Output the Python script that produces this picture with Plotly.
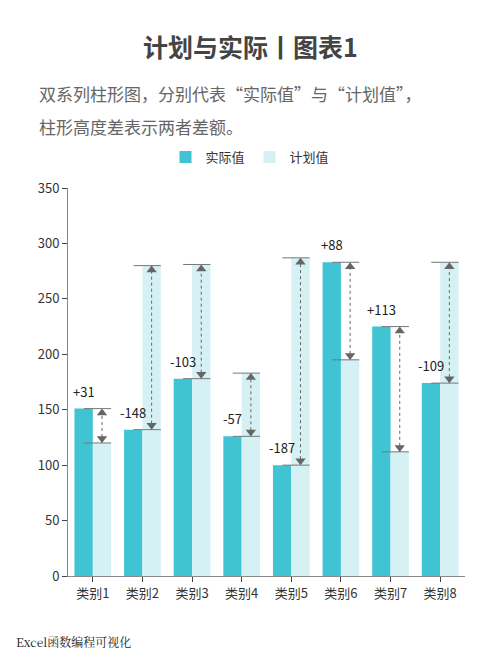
import plotly.graph_objects as go

categories = ["类别1","类别2","类别3","类别4","类别5","类别6","类别7","类别8"]
actual = [151, 132, 178, 126, 100, 283, 225, 174]
plan = [120, 280, 281, 183, 287, 195, 112, 283]
y_ticks = [0, 50, 100, 150, 200, 250, 300, 350]

# page has an 8px body margin; compensate
OFF = 8
L, R, T, B = 68 - OFF, 500 - (465 - OFF), 188 - OFF, 667 - (576 - OFF)
PW, PH = 500 - L - R, 667 - T - B
def px(xp): return (xp - OFF - L) / PW
def py(yp): return (667 - B - (yp - OFF)) / PH

x = list(range(len(categories)))
fig = go.Figure()
fig.add_bar(x=x, y=actual, name="实际值", marker_color="#40C4D4", offset=-0.37, width=0.37)
fig.add_bar(x=x, y=plan, name="计划值", marker_color="#D6F1F4", offset=0.0, width=0.37)

shapes = []
ux, uy, dx, dy = [], [], [], []
for i, (a, p) in enumerate(zip(actual, plan)):
    xc = i + 0.185
    lo, hi = min(a, p), max(a, p)
    shapes.append(dict(type="line", x0=xc, x1=xc, y0=lo, y1=hi, line=dict(color="#666", width=1, dash="dot")))
    shapes.append(dict(type="line", x0=i - 0.18, x1=i + 0.37, y0=p, y1=p, line=dict(color="#777", width=1)))
    shapes.append(dict(type="line", x0=i - 0.18, x1=i + 0.37, y0=a, y1=a, line=dict(color="#777", width=1)))
    ux.append(xc); uy.append(hi - 4)
    dx.append(xc); dy.append(lo + 4)

fig.add_scatter(x=ux, y=uy, mode="markers", marker=dict(symbol="triangle-up", size=9, color="#666"),
                showlegend=False, hoverinfo="skip")
fig.add_scatter(x=dx, y=dy, mode="markers", marker=dict(symbol="triangle-down", size=9, color="#666"),
                showlegend=False, hoverinfo="skip")

fig.update_layout(
    width=500, height=667, template="none",
    paper_bgcolor="white", plot_bgcolor="white",
    font=dict(family="Noto Sans CJK SC", color="#333"),
    margin=dict(l=L, r=R, t=T, b=B, autoexpand=False),
    barmode="overlay", showlegend=True,
    legend=dict(orientation="h", x=px(250), xanchor="center", y=py(157), yanchor="middle",
                font=dict(size=13), itemwidth=30),
    shapes=shapes,
    xaxis=dict(tickmode="array", tickvals=x, ticktext=categories, range=[-0.5, 7.5], showgrid=False,
               showline=True, linecolor="#888", ticks="outside", tickfont=dict(size=13), zeroline=False,
               automargin=False),
    yaxis=dict(range=[0, 350], tickvals=y_ticks, showgrid=False, showline=True, linecolor="#888",
               ticks="outside", tickfont=dict(size=13), zeroline=False, automargin=False),
)
for i, (a, p) in enumerate(zip(actual, plan)):
    fig.add_annotation(x=i - 0.185, y=a, text=f"{a - p:+d}", showarrow=False, yanchor="bottom", yshift=6,
                       font=dict(size=13, color="#222"))
fig.add_annotation(xref="paper", yref="paper", x=px(250), y=py(46), xanchor="center", yanchor="middle",
                   showarrow=False, text="<b>计划与实际丨图表1</b>", font=dict(size=25, color="#444"))
fig.add_annotation(xref="paper", yref="paper", x=px(37), y=py(93), xanchor="left", yanchor="middle",
                   showarrow=False, text="双系列柱形图，分别代表“实际值”与“计划值”，",
                   font=dict(size=17, color="#666"))
fig.add_annotation(xref="paper", yref="paper", x=px(37), y=py(127), xanchor="left", yanchor="middle",
                   showarrow=False, text="柱形高度差表示两者差额。",
                   font=dict(size=17, color="#666"))
fig.add_annotation(xref="paper", yref="paper", x=px(14), y=py(641), xanchor="left", yanchor="middle",
                   showarrow=False, text="Excel函数编程可视化", font=dict(size=12, color="#222", family="Noto Serif CJK SC, serif"))
fig.write_html("out.html")
